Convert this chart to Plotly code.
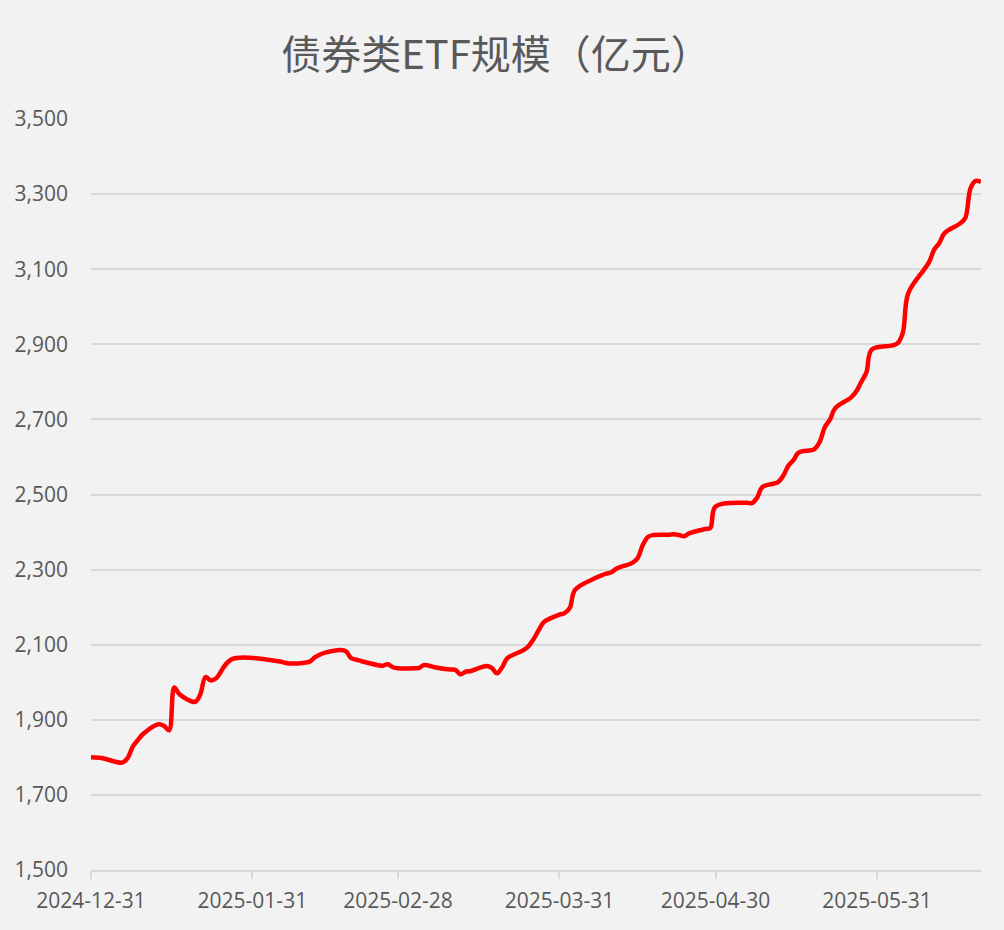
import plotly.graph_objects as go

# trading days (holidays skipped) and bond ETF size, 亿元
dates = [
    "2024-12-31", "2025-01-02", "2025-01-03", "2025-01-06", "2025-01-07",
    "2025-01-08", "2025-01-09", "2025-01-10", "2025-01-13", "2025-01-14",
    "2025-01-15", "2025-01-16", "2025-01-17", "2025-01-20", "2025-01-21",
    "2025-01-22", "2025-01-23", "2025-01-24", "2025-01-27", "2025-02-05",
    "2025-02-06", "2025-02-07", "2025-02-10", "2025-02-11", "2025-02-12",
    "2025-02-13", "2025-02-14", "2025-02-17", "2025-02-18", "2025-02-19",
    "2025-02-20", "2025-02-21", "2025-02-24", "2025-02-25", "2025-02-26",
    "2025-02-27", "2025-02-28", "2025-03-03", "2025-03-04", "2025-03-05",
    "2025-03-06", "2025-03-07", "2025-03-10", "2025-03-11", "2025-03-12",
    "2025-03-13", "2025-03-14", "2025-03-17", "2025-03-18", "2025-03-19",
    "2025-03-20", "2025-03-21", "2025-03-24", "2025-03-25", "2025-03-26",
    "2025-03-27", "2025-03-28", "2025-03-31", "2025-04-01", "2025-04-02",
    "2025-04-03", "2025-04-07", "2025-04-08", "2025-04-09", "2025-04-10",
    "2025-04-11", "2025-04-14", "2025-04-15", "2025-04-16", "2025-04-17",
    "2025-04-18", "2025-04-21", "2025-04-22", "2025-04-23", "2025-04-24",
    "2025-04-25", "2025-04-28", "2025-04-29", "2025-04-30", "2025-05-06",
    "2025-05-07", "2025-05-08", "2025-05-09", "2025-05-12", "2025-05-13",
    "2025-05-14", "2025-05-15", "2025-05-16", "2025-05-19", "2025-05-20",
    "2025-05-21", "2025-05-22", "2025-05-23", "2025-05-26", "2025-05-27",
    "2025-05-28", "2025-05-29", "2025-05-30", "2025-06-03", "2025-06-04",
    "2025-06-05", "2025-06-06", "2025-06-09", "2025-06-10", "2025-06-11",
    "2025-06-12", "2025-06-13", "2025-06-16", "2025-06-17", "2025-06-18",
    "2025-06-19", "2025-06-20",
]
etf_size = [
    1800, 1798, 1795, 1786, 1797,
    1828, 1846, 1862, 1888, 1884,
    1872, 1986, 1968, 1948, 1968,
    2014, 2005, 2010, 2061, 2056,
    2053, 2050, 2052, 2055, 2066,
    2074, 2079, 2086, 2082, 2064,
    2060, 2056, 2046, 2044, 2048,
    2040, 2037, 2037, 2038, 2046,
    2044, 2040, 2034, 2033, 2021,
    2028, 2030, 2043, 2038, 2024,
    2040, 2064, 2085, 2095, 2114,
    2138, 2160, 2180, 2184, 2198,
    2246, 2278, 2284, 2289, 2293,
    2303, 2318, 2330, 2365, 2387,
    2392, 2393, 2394, 2392, 2389,
    2397, 2408, 2411, 2468, 2478,
    2477, 2492, 2520, 2533, 2550,
    2577, 2592, 2612, 2621, 2640,
    2680, 2700, 2730, 2758, 2774,
    2800, 2826, 2886, 2897, 2903,
    2932, 3035, 3098, 3118, 3152,
    3170, 3196, 3222, 3237, 3316,
    3335, 3332,
]
month_ticks = ["2024-12-31", "2025-01-31", "2025-02-28", "2025-03-31", "2025-04-30", "2025-05-31"]

grey_text = "#595959"
grid_col = "#d9d9d9"
title_font = "Noto Sans CJK SC"
tick_font = "Open Sans"

fig = go.Figure(
    data=[
        go.Scatter(
            x=dates,
            y=etf_size,
            mode="lines",
            line=dict(color="#ff0000", width=4.5, shape="spline", smoothing=1.0),
            showlegend=False,
        )
    ]
)

fig.update_layout(
    width=1004,
    height=930,
    paper_bgcolor="#f2f2f2",
    plot_bgcolor="#f2f2f2",
    font=dict(family=tick_font, size=21, color=grey_text),
    margin=dict(l=91, r=23, t=119, b=60),
    title=dict(
        text="债券类ETF规模（亿元）",
        font=dict(family=title_font, size=40, color=grey_text),
        xref="container",
        x=496 / 1004,
        xanchor="center",
        yref="container",
        y=1 - 55 / 930,
        yanchor="middle",
    ),
)
fig.update_xaxes(
    type="date",
    range=["2024-12-31", "2025-06-20"],
    tickvals=month_ticks,
    ticktext=month_ticks,
    showgrid=False,
    showline=True,
    linecolor=grid_col,
    linewidth=1.5,
    ticks="outside",
    ticklen=7,
    tickwidth=1.5,
    tickcolor=grid_col,
    ticklabelstandoff=4,
    zeroline=False,
)
fig.update_yaxes(
    range=[1500, 3500],
    tick0=1500,
    dtick=200,
    tickformat=",",
    showgrid=True,
    gridcolor=grid_col,
    gridwidth=1.5,
    showline=False,
    zeroline=False,
    ticklabelstandoff=22,
)

# drop the default 8px page margin so the chart fills the window
fig.write_html(
    "out.html",
    config={"displayModeBar": False},
    post_script="document.body.style.margin = '0';",
)
